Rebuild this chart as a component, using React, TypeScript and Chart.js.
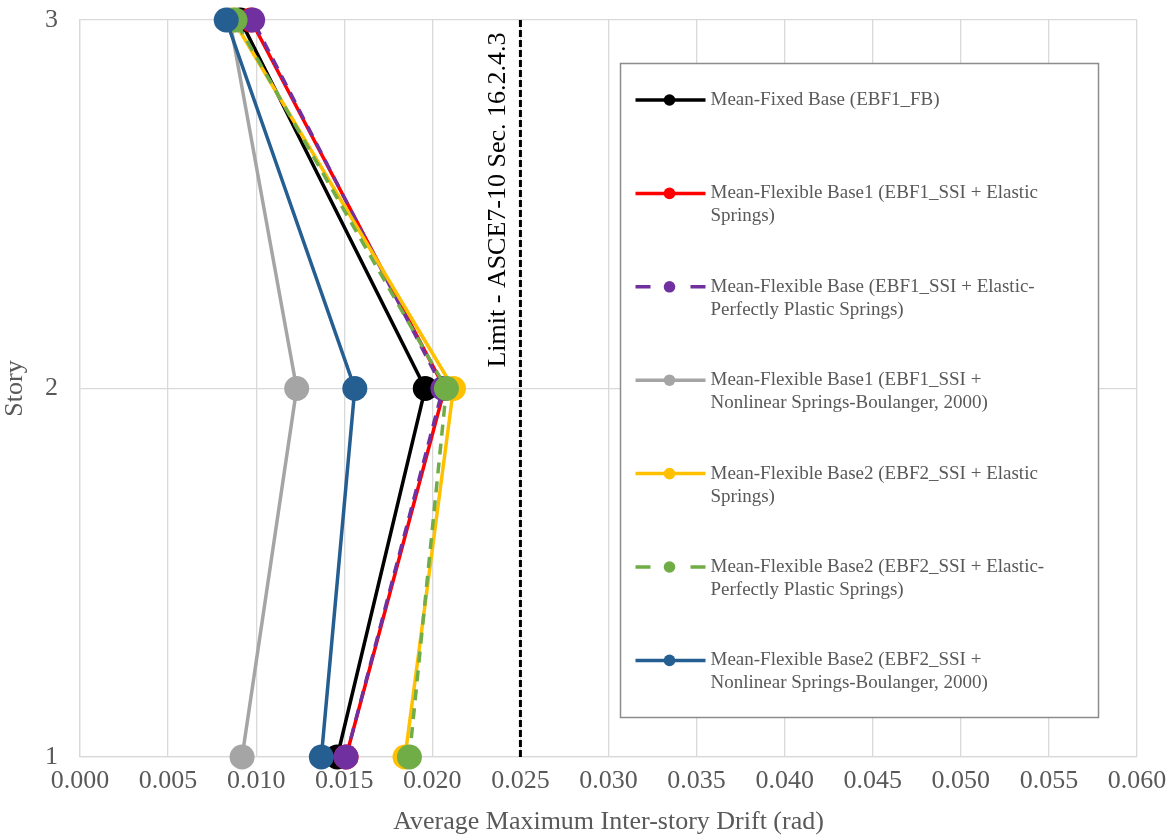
import React, { useEffect, useRef } from "react";
import { Chart, registerables } from "chart.js";

Chart.register(...registerables);

// ---------- data ----------
const stories = [1, 2, 3];
const meanFixedBase = [0.0146, 0.0196, 0.0091];
const flexBase1Elastic = [0.0151, 0.0207, 0.0097];
const flexBase1EPP = [0.0151, 0.0206, 0.0098];
const flexBase1Nonlinear = [0.0092, 0.0123, 0.0085];
const flexBase2Elastic = [0.01845, 0.0212, 0.0087];
const flexBase2EPP = [0.0187, 0.0208, 0.0088];
const flexBase2Nonlinear = [0.0137, 0.0156, 0.0083];

const limitDrift = 0.025;
const limitStories = [1, 3];
const limitLabel = "Limit - ASCE7-10 Sec. 16.2.4.3";

const xMin = 0;
const xMax = 0.06;
const xStep = 0.005;
const yMin = 1;
const yMax = 3;

const xTitle = "Average Maximum Inter-story Drift (rad)";
const yTitle = "Story";

const seriesLabels = [
  ["Mean-Fixed Base (EBF1_FB)"],
  ["Mean-Flexible Base1 (EBF1_SSI + Elastic", "Springs)"],
  ["Mean-Flexible Base (EBF1_SSI + Elastic-", "Perfectly Plastic Springs)"],
  ["Mean-Flexible Base1 (EBF1_SSI +", "Nonlinear Springs-Boulanger, 2000)"],
  ["Mean-Flexible Base2 (EBF2_SSI + Elastic", "Springs)"],
  ["Mean-Flexible Base2 (EBF2_SSI + Elastic-", "Perfectly Plastic Springs)"],
  ["Mean-Flexible Base2 (EBF2_SSI +", "Nonlinear Springs-Boulanger, 2000)"],
];
const seriesValues = [
  meanFixedBase,
  flexBase1Elastic,
  flexBase1EPP,
  flexBase1Nonlinear,
  flexBase2Elastic,
  flexBase2EPP,
  flexBase2Nonlinear,
];
const seriesColors = ["#000000", "#ff0000", "#7030a0", "#a5a5a5", "#ffc000", "#70ad47", "#255e91"];
const seriesDashed = [false, false, true, false, false, true, false];

const SERIF = '"Liberation Serif", "Times New Roman", serif';
const TEXT_GREY = "#595959";

const boxLegendPlugin = {
  id: "boxLegend",
  afterDatasetsDraw(chart: any) {
    const ctx = chart.ctx;
    const bx = 620.5, by = 63.5, bw = 478, bh = 654;
    ctx.save();
    ctx.fillStyle = "#ffffff";
    ctx.fillRect(bx, by, bw, bh);
    ctx.strokeStyle = "#8c8c8c";
    ctx.lineWidth = 1.5;
    ctx.strokeRect(bx, by, bw, bh);
    seriesLabels.forEach((lines, i) => {
      const y = by + 36.5 + i * 93.4;
      const color = seriesColors[i];
      ctx.strokeStyle = color;
      ctx.lineWidth = 3.5;
      ctx.setLineDash(seriesDashed[i] ? [15, 40] : []);
      ctx.beginPath();
      ctx.moveTo(bx + 15, y);
      ctx.lineTo(bx + 85, y);
      ctx.stroke();
      ctx.setLineDash([]);
      ctx.beginPath();
      ctx.arc(bx + 49, y, 5.8, 0, Math.PI * 2);
      ctx.fillStyle = color;
      ctx.fill();
      ctx.fillStyle = TEXT_GREY;
      ctx.font = `19px ${SERIF}`;
      ctx.textAlign = "left";
      ctx.textBaseline = "middle";
      lines.forEach((ln, j) => ctx.fillText(ln, bx + 90, y + j * 23));
    });
    ctx.restore();
  },
};

const limitLabelPlugin = {
  id: "limitLabel",
  afterDatasetsDraw(chart: any) {
    const ctx = chart.ctx;
    const xs = chart.scales.x;
    const x = xs.getPixelForValue(limitDrift) - 15;
    const y = chart.chartArea.top + 180;
    ctx.save();
    ctx.translate(x, y);
    ctx.rotate(-Math.PI / 2);
    ctx.fillStyle = "#000000";
    ctx.font = `26px ${SERIF}`;
    ctx.textAlign = "center";
    ctx.textBaseline = "alphabetic";
    ctx.fillText(limitLabel, 0, 0);
    ctx.restore();
  },
};

export default function App() {
  const canvasRef = useRef<HTMLCanvasElement | null>(null);

  useEffect(() => {
    if (!canvasRef.current) return;
    const n = seriesValues.length;
    const datasets: any[] = seriesValues.map((vals, i) => ({
      label: seriesLabels[i].join(" "),
      data: stories.map((s, k) => ({ x: vals[k], y: s })),
      showLine: true,
      borderColor: seriesColors[i],
      backgroundColor: seriesColors[i],
      pointBackgroundColor: seriesColors[i],
      pointBorderWidth: 0,
      pointRadius: 12.5,
      pointHoverRadius: 12.5,
      borderWidth: 3.5,
      borderDash: seriesDashed[i] ? [11, 8] : [],
      tension: 0,
      clip: false,
      order: n - i,
    }));
    datasets.push({
      label: "limit",
      data: limitStories.map((s) => ({ x: limitDrift, y: s })),
      showLine: true,
      borderColor: "#000000",
      borderWidth: 3,
      borderDash: [7, 3],
      pointRadius: 0,
      pointHoverRadius: 0,
      clip: false,
      order: n + 1,
    });

    const chart = new Chart(canvasRef.current, {
      type: "scatter",
      data: { datasets },
      plugins: [limitLabelPlugin, boxLegendPlugin],
      options: {
        animation: false,
        responsive: false,
        events: [],
        layout: { padding: { top: 20, right: 34, left: 0, bottom: 0 } },
        plugins: {
          legend: { display: false },
          tooltip: { enabled: false },
        },
        scales: {
          x: {
            type: "linear",
            min: xMin,
            max: xMax,
            afterFit: (scale: any) => {
              scale.height = 81;
              scale.paddingLeft = 0;
              scale.paddingRight = 0;
            },
            ticks: {
              stepSize: xStep,
              color: TEXT_GREY,
              font: { family: SERIF, size: 26 },
              padding: 9,
              maxRotation: 0,
              autoSkip: false,
              callback: (v: any) => Number(v).toFixed(3),
            },
            grid: { color: "#d9d9d9", lineWidth: 1.3, drawTicks: false },
            border: { display: true, color: "#d9d9d9", width: 1.3 },
            title: {
              display: true,
              text: xTitle,
              color: TEXT_GREY,
              font: { family: SERIF, size: 26 },
              padding: 0,
            },
          },
          y: {
            type: "linear",
            min: yMin,
            max: yMax,
            afterFit: (scale: any) => {
              scale.width = 80;
              scale.paddingTop = 0;
              scale.paddingBottom = 0;
            },
            ticks: {
              stepSize: 1,
              color: TEXT_GREY,
              font: { family: SERIF, size: 26 },
              padding: 22,
              callback: (v: any) => String(v),
            },
            grid: { color: "#d9d9d9", lineWidth: 1.3, drawTicks: false },
            border: { display: true, color: "#d9d9d9", width: 1.3 },
            title: {
              display: true,
              text: yTitle,
              color: TEXT_GREY,
              font: { family: SERIF, size: 26 },
              padding: 0,
            },
          },
        },
      },
    } as any);
    return () => chart.destroy();
  }, []);

  return (
    <div style={{ position: "fixed", left: 0, top: 0, width: 1171, height: 838, background: "#ffffff" }}>
      <canvas ref={canvasRef} width={1171} height={838} style={{ display: "block" }} />
    </div>
  );
}
